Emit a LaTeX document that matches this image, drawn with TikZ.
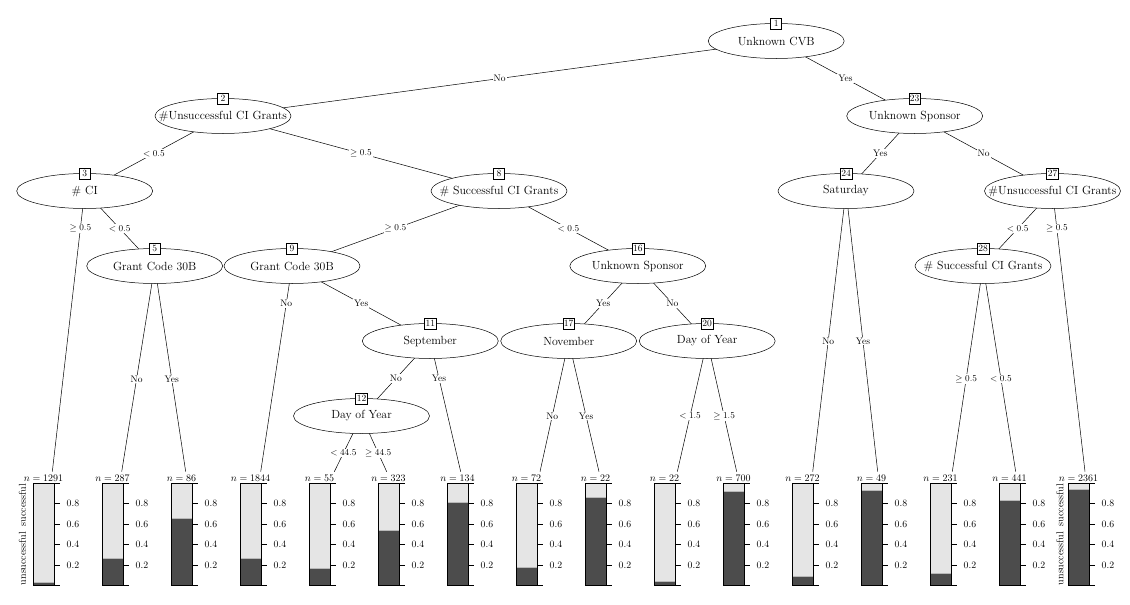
\documentclass[tikz,border=0pt]{standalone}
\usetikzlibrary{shapes.geometric,backgrounds}
\definecolor{barlight}{gray}{0.90}
\definecolor{bardark}{gray}{0.30}
% split labels take no width, so every ellipse keeps the same size
\newcommand\fixedlabel[1]{\makebox[0pt][c]{#1}}
\tikzset{
  split/.style={ellipse, draw, fill=white, minimum width=136pt, minimum height=35pt,
    inner sep=0pt, line width=0.5pt, font=\fontsize{11.8}{14}\selectfont},
  idbox/.style={draw, fill=white, inner sep=1.2pt, minimum width=11pt, minimum height=11pt,
    line width=0.5pt, font=\fontsize{9.5}{11}\selectfont},
  elab/.style={fill=white, inner sep=1pt, font=\fontsize{9.5}{11}\selectfont},
  edge/.style={line width=0.5pt},
  ticklab/.style={anchor=west, inner sep=0pt, font=\fontsize{9.8}{11}\selectfont},
  nlab/.style={anchor=base, inner sep=0pt, font=\fontsize{10}{12}\selectfont},
  ylab/.style={rotate=90, inner sep=0pt, font=\fontsize{10}{12}\selectfont},
}
\begin{document}
\begin{tikzpicture}[x=1pt,y=-1pt]
\useasboundingbox (0,0) rectangle (1130,605);

% inner split nodes
\node[split] (n1)  at (776.2,41)   {\fixedlabel{Unknown CVB}};
\node[split] (n2)  at (223,116)    {\fixedlabel{\#Unsuccessful CI Grants}};
\node[split] (n23) at (914.7,116)  {\fixedlabel{Unknown Sponsor}};
\node[split] (n3)  at (84.7,191)   {\fixedlabel{\# CI}};
\node[split] (n8)  at (499,191)    {\fixedlabel{\# Successful CI Grants}};
\node[split] (n24) at (846,191)    {\fixedlabel{Saturday}};
\node[split] (n27) at (1052.5,191) {\fixedlabel{\#Unsuccessful CI Grants}};
\node[split] (n5)  at (154.7,266)  {\fixedlabel{Grant Code 30B}};
\node[split] (n9)  at (292,266)    {\fixedlabel{Grant Code 30B}};
\node[split] (n16) at (637.8,266)  {\fixedlabel{Unknown Sponsor}};
\node[split] (n28) at (983,266)    {\fixedlabel{\# Successful CI Grants}};
\node[split] (n11) at (430.3,341)  {\fixedlabel{September}};
\node[split] (n17) at (568.7,341)  {\fixedlabel{November}};
\node[split] (n20) at (707.2,341)  {\fixedlabel{Day of Year}};
\node[split] (n12) at (361.5,416)  {\fixedlabel{Day of Year}};

% node numbers
\foreach \k in {1,2,23,3,8,24,27,5,9,16,28,11,17,20,12}
  \node[idbox] (id\k) at (n\k.north) {\k};

% leaf attachment points
\coordinate (l1)  at (52.3,471.7);
\coordinate (l2)  at (121.7,471.7);
\coordinate (l3)  at (185.7,471.7);
\coordinate (l4)  at (260.7,471.7);
\coordinate (l5)  at (334.3,471.7);
\coordinate (l6)  at (386.7,471.7);
\coordinate (l7)  at (460.7,471.7);
\coordinate (l8)  at (540,471.7);
\coordinate (l9)  at (599,471.7);
\coordinate (l10) at (677.3,471.7);
\coordinate (l11) at (736.7,471.7);
\coordinate (l12) at (812.7,471.7);
\coordinate (l13) at (877.7,471.7);
\coordinate (l14) at (952.3,471.7);
\coordinate (l15) at (1015.7,471.7);
\coordinate (l16) at (1085,471.7);

% edges, drawn beneath the split nodes
\begin{pgfonlayer}{background}
\draw[edge] (n1.center) -- node[elab] {No} (n2.center);
\draw[edge] (n1.center) -- node[elab] {Yes} (n23.center);
\draw[edge] (n2.center) -- node[elab] {$<0.5$} (n3.center);
\draw[edge] (n2.center) -- node[elab] {$\geq 0.5$} (n8.center);
\draw[edge] (n3.center) -- node[elab,pos=0.1336] {$\geq 0.5$} (l1);
\draw[edge] (n3.center) -- node[elab] {$<0.5$} (n5.center);
\draw[edge] (n5.center) -- node[elab,pos=0.549] {No} (l2);
\draw[edge] (n5.center) -- node[elab,pos=0.549] {Yes} (l3);
\draw[edge] (n8.center) -- node[elab] {$\geq 0.5$} (n9.center);
\draw[edge] (n8.center) -- node[elab] {$<0.5$} (n16.center);
\draw[edge] (n9.center) -- node[elab,pos=0.182] {No} (l4);
\draw[edge] (n9.center) -- node[elab] {Yes} (n11.center);
\draw[edge] (n11.center) -- node[elab] {No} (n12.center);
\draw[edge] (n11.center) -- node[elab,pos=0.287] {Yes} (l7);
\draw[edge] (n12.center) -- node[elab,pos=0.664] {$<44.5$} (l5);
\draw[edge] (n12.center) -- node[elab,pos=0.664] {$\geq 44.5$} (l6);
\draw[edge] (n16.center) -- node[elab] {Yes} (n17.center);
\draw[edge] (n16.center) -- node[elab] {No} (n20.center);
\draw[edge] (n17.center) -- node[elab,pos=0.574] {No} (l8);
\draw[edge] (n17.center) -- node[elab,pos=0.574] {Yes} (l9);
\draw[edge] (n20.center) -- node[elab,pos=0.574] {$<1.5$} (l10);
\draw[edge] (n20.center) -- node[elab,pos=0.574] {$\geq 1.5$} (l11);
\draw[edge] (n23.center) -- node[elab] {Yes} (n24.center);
\draw[edge] (n23.center) -- node[elab] {No} (n27.center);
\draw[edge] (n24.center) -- node[elab,pos=0.534] {No} (l12);
\draw[edge] (n24.center) -- node[elab,pos=0.534] {Yes} (l13);
\draw[edge] (n27.center) -- node[elab] {$<0.5$} (n28.center);
\draw[edge] (n27.center) -- node[elab,pos=0.1336] {$\geq 0.5$} (l16);
\draw[edge] (n28.center) -- node[elab,pos=0.549] {$\geq 0.5$} (l14);
\draw[edge] (n28.center) -- node[elab,pos=0.549] {$<0.5$} (l15);
\end{pgfonlayer}

% terminal bar charts: left edge / share of unsuccessful / n
\foreach \L/\f/\n [count=\i] in {33/0.033/1291, 102/0.27/287, 171/0.66/86, 240/0.27/1844,
    309/0.17/55, 378/0.54/323, 447/0.81/134, 516/0.18/72, 585/0.866/22, 654/0.04/22,
    723/0.92/700, 792/0.09/272, 861/0.93/49, 930/0.115/231, 999/0.83/441, 1068/0.94/2361} {
  \fill[barlight] (\L,483.3) rectangle ({\L+21},585.3);
  \fill[bardark] (\L,{585.3-102*\f}) rectangle ({\L+21},585.3);
  \draw[gray!55, line width=0.4pt] (\L,{585.3-102*\f}) -- ({\L+21},{585.3-102*\f});
  \draw[line width=0.4pt] (\L,483.3) rectangle ({\L+21},585.3);
  \draw[line width=0.5pt] ({\L+21},483.3) -- ({\L+21},585.3);
  \foreach \v in {0,0.2,0.4,0.6,0.8,1}
    \draw[line width=0.5pt] ({\L+21},{585.3-102*\v}) -- ({\L+27},{585.3-102*\v});
  \foreach \v [count=\j] in {0.2,0.4,0.6,0.8}
    \node[ticklab] (tk\i-\j) at ({\L+33.5},{585.3-102*\v}) {\v};
  \node[nlab] (nl\i) at ({\L+10.5},481.3) {$n = \n$};
}

% class labels beside the outer bars
\node[ylab, anchor=west] (yu1) at (22.5,585.3) {unsuccessful};
\node[ylab, anchor=east] (ys1) at (22.5,483.8) {successful};
\node[ylab, anchor=west] (yu2) at (1060,585.3) {unsuccessful};
\node[ylab, anchor=east] (ys2) at (1060,483.8) {successful};
\end{tikzpicture}
\end{document}
